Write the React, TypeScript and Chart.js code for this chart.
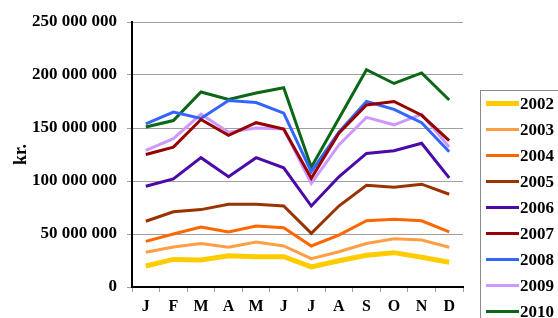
import React, { useEffect, useRef } from "react";
import { Chart, registerables } from "chart.js";

Chart.register(...registerables);

const months = ["J", "F", "M", "A", "M", "J", "J", "A", "S", "O", "N", "D"];
const years = ["2002", "2003", "2004", "2005", "2006", "2007", "2008", "2009", "2010"];
const colors = ["#FFCC00", "#FF9F45", "#FF6600", "#993300", "#4B0AA8", "#960000", "#3366FF", "#CC99FF", "#0B6616"];
const widths = [5, 3, 3, 3, 3, 3, 3, 3, 3];

const M = 1000000;
const v2002 = [19.8, 26, 25.5, 29.5, 28.6, 28.6, 19, 24.8, 30, 32.4, 28, 23.3];
const v2003 = [32.7, 37.7, 41, 37.5, 42.5, 38.7, 26.7, 33.3, 41, 45.6, 44.3, 37.5];
const v2004 = [43, 50, 56.6, 52, 57.5, 56, 38.7, 49, 62.5, 64, 62.5, 52];
const v2005 = [62, 71, 73, 78, 78, 76.5, 50.6, 76.4, 96, 94, 97, 87.5];
const v2006 = [95, 102, 122, 104, 122, 112.5, 76.4, 104, 126, 128.6, 135.6, 103];
const v2007 = [125, 132, 158, 143, 155, 149, 102.5, 145, 171.7, 175, 162, 138];
const v2008 = [154, 165, 159, 176, 174, 164, 108.8, 146, 175, 167.6, 155, 127.6];
const v2009 = [129, 140, 163, 146, 150, 149, 97.8, 134, 160, 153, 163, 132];
const v2010 = [151, 157, 184, 177, 183, 188, 113, 159, 205, 192, 202, 176.4];
const series = [v2002, v2003, v2004, v2005, v2006, v2007, v2008, v2009, v2010];

const yMax = 250 * M;
const yStep = 50 * M;
const FONT = "'Liberation Serif', 'Times New Roman', serif";

const fmt = (v: number) => String(v).replace(/\B(?=(\d{3})+(?!\d))/g, " ");

const legendPlugin = {
  id: "boxLegend",
  afterDraw(chart: any) {
    const ctx = chart.ctx;
    const x0 = 480;
    const y0 = 90;
    ctx.save();
    ctx.strokeStyle = "#8c8c8c";
    ctx.lineWidth = 1;
    ctx.strokeRect(x0 + 0.5, y0 + 0.5, 120, 260);
    ctx.font = `bold 17px ${FONT}`;
    ctx.textBaseline = "middle";
    ctx.textAlign = "left";
    chart.data.datasets.forEach((ds: any, i: number) => {
      const y = 103.5 + i * 26;
      ctx.strokeStyle = ds.borderColor;
      ctx.lineWidth = ds.borderWidth;
      ctx.beginPath();
      ctx.moveTo(486, y);
      ctx.lineTo(519, y);
      ctx.stroke();
      ctx.fillStyle = "#000";
      ctx.fillText(ds.label, 520, y + 1);
    });
    ctx.restore();
  },
};

export default function App() {
  const ref = useRef<HTMLCanvasElement>(null);
  useEffect(() => {
    document.body.style.margin = "0";
    const chart = new Chart(ref.current!, {
      type: "line",
      data: {
        labels: months,
        datasets: years.map((y, i) => ({
          label: y,
          data: series[i].map((v) => v * M),
          borderColor: colors[i],
          backgroundColor: colors[i],
          borderWidth: widths[i],
          pointRadius: 0,
          tension: 0,
          fill: false,
        })),
      },
      options: {
        responsive: false,
        animation: false,
        layout: { padding: { left: 0, right: 95, top: 22, bottom: 0 } },
        plugins: { legend: { display: false }, tooltip: { enabled: false } },
        scales: {
          x: {
            offset: true,
            afterFit: (s: any) => { s.height = 31; },
            grid: { offset: true, drawOnChartArea: false, drawTicks: true, tickLength: 5, color: "#a0a0a0" },
            border: { color: "#000", width: 2 },
            ticks: { color: "#000", font: { family: FONT, size: 16, weight: "bold" }, padding: 5, maxRotation: 0, autoSkip: false },
          },
          y: {
            min: 0,
            max: yMax,
            afterFit: (s: any) => { s.width = 132; },
            grid: { color: "#a0a0a0", lineWidth: 1, drawTicks: true, tickLength: 5 },
            border: { color: "#000", width: 2 },
            ticks: {
              stepSize: yStep,
              color: "#000",
              padding: 10,
              font: { family: FONT, size: 17, weight: "bold" },
              callback: (v: any) => fmt(Number(v)),
            },
            title: {
              display: true,
              text: "kr.",
              color: "#000",
              font: { family: FONT, size: 18, weight: "bold" },
              padding: { top: 11, bottom: 0 },
            },
          },
        },
      },
      plugins: [legendPlugin],
    });
    return () => chart.destroy();
  }, []);
  return (
    <div style={{ position: "absolute", left: 0, top: 0, width: 558, height: 318 }}>
      <canvas ref={ref} width={558} height={318} style={{ width: 558, height: 318 }} />
    </div>
  );
}
